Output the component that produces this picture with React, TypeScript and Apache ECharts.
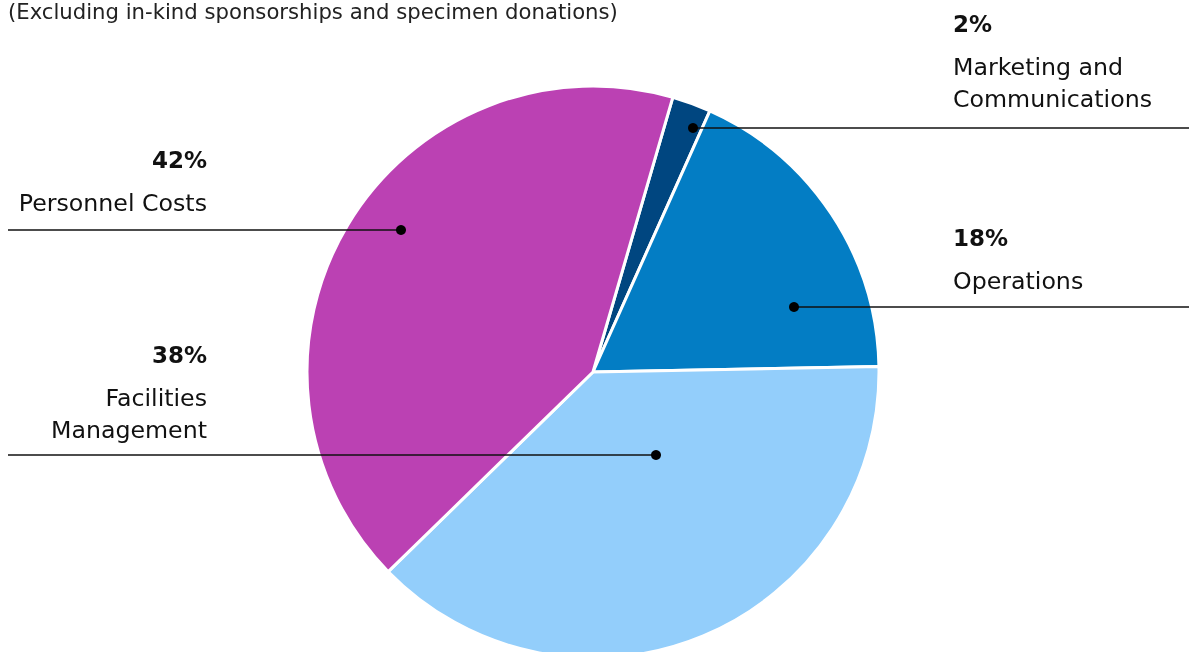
import React, { useEffect, useRef } from "react";
import * as echarts from "echarts";

const categories = ["Marketing and\nCommunications", "Operations", "Facilities\nManagement", "Personnel Costs"];
const values = [2.2, 18, 38, 41.8];
const colors = ["#004680", "#037DC4", "#93CEFB", "#BB41B3"];
const subtitle = "(Excluding in-kind sponsorships and specimen donations)";

// annotation layout: [labelX, pctY, align, lineY, dotX, lineEndX]
const layout: [number, number, string, number, number, number][] = [
  [953, 24, "left", 128, 693, 1189],
  [953, 238, "left", 307, 794, 1189],
  [207, 355, "right", 455, 656, 8],
  [207, 160, "right", 230, 401, 8],
];

const FONT = "'DejaVu Sans', sans-serif";

export default function App() {
  const ref = useRef<HTMLDivElement>(null);
  useEffect(() => {
    const chart = echarts.init(ref.current!, null, { renderer: "svg" });
    const graphics: any[] = [
      {
        type: "text",
        x: 8,
        y: 1,
        style: { text: subtitle, font: `21.2px ${FONT}`, fill: "#222", verticalAlign: "top" },
      },
    ];
    categories.forEach((c, i) => {
      const [lx, py, align, ly, dx, ex] = layout[i];
      graphics.push({
        type: "text",
        x: lx,
        y: py,
        style: {
          text: Math.round(values[i]) + "%",
          font: `bold 23px ${FONT}`,
          fill: "#111",
          align,
          verticalAlign: "middle",
        },
      });
      c.split("\n").forEach((line, k) => {
        graphics.push({
          type: "text",
          x: lx,
          y: py + 42.5 + 32 * k,
          style: {
            text: line,
            font: `23.7px ${FONT}`,
            fill: "#111",
            align,
            verticalAlign: "middle",
          },
        });
      });
      graphics.push({
        type: "line",
        shape: { x1: dx, y1: ly, x2: ex, y2: ly },
        style: { stroke: "#111", lineWidth: 1.5 },
        z: 10,
      });
      graphics.push({
        type: "circle",
        shape: { cx: dx, cy: ly, r: 5 },
        style: { fill: "#000" },
        z: 11,
      });
    });
    chart.setOption({
      animation: false,
      graphic: graphics,
      series: [
        {
          type: "pie",
          center: [593, 372],
          radius: 286,
          startAngle: 73.8,
          clockwise: true,
          label: { show: false },
          labelLine: { show: false },
          itemStyle: { borderColor: "#fff", borderWidth: 3 },
          silent: true,
          data: categories.map((c, i) => ({ name: c, value: values[i], itemStyle: { color: colors[i] } })),
        },
      ],
    });
    return () => chart.dispose();
  }, []);
  return <div ref={ref} style={{ position: "fixed", left: 0, top: 0, width: 1189, height: 652 }} />;
}
